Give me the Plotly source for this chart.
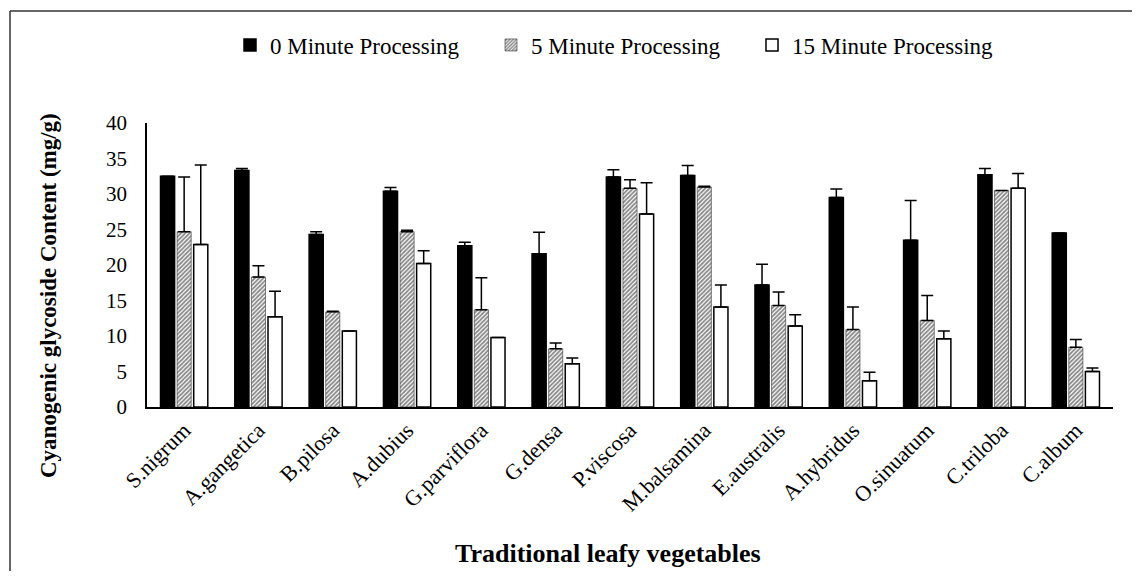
import plotly.graph_objects as go

categories = ["S.nigrum", "A.gangetica", "B.pilosa", "A.dubius", "G.parviflora", "G.densa",
              "P.viscosa", "M.balsamina", "E.australis", "A.hybridus", "O.sinuatum", "C.triloba", "C.album"]

series_names = ["0 Minute Processing", "5 Minute Processing", "15 Minute Processing"]

min0_values = [32.5, 33.3, 24.3, 30.4, 22.7, 21.6, 32.4, 32.6, 17.2, 29.5, 23.5, 32.7, 24.5]
min0_errors = [0.0, 0.3, 0.4, 0.5, 0.5, 3.0, 1.0, 1.4, 2.9, 1.2, 5.6, 0.9, 0.0]

min5_values = [24.7, 18.3, 13.4, 24.7, 13.7, 8.2, 30.8, 31.0, 14.3, 10.9, 12.2, 30.5, 8.4]
min5_errors = [7.7, 1.6, 0.1, 0.2, 4.5, 0.8, 1.2, 0.1, 1.9, 3.2, 3.5, 0.0, 1.1]

min15_values = [22.9, 12.7, 10.7, 20.2, 9.8, 6.1, 27.2, 14.1, 11.4, 3.7, 9.6, 30.8, 5.0]
min15_errors = [11.2, 3.6, 0.0, 1.8, 0.0, 0.8, 4.4, 3.1, 1.6, 1.2, 1.1, 2.1, 0.5]

y_ticks = [0, 5, 10, 15, 20, 25, 30, 35, 40]

FONT = "Times New Roman, Liberation Serif, serif"

def err(vals):
    return dict(type="data", symmetric=False, array=vals, arrayminus=[0] * len(vals),
                color="black", thickness=1.5, width=6)

fig = go.Figure()
fig.add_trace(go.Bar(
    name=series_names[0], x=categories, y=min0_values, error_y=err(min0_errors),
    marker=dict(color="black", line=dict(color="black", width=1.5)),
))
fig.add_trace(go.Bar(
    name=series_names[1], x=categories, y=min5_values, error_y=err(min5_errors),
    marker=dict(color="white", line=dict(color="#333333", width=0.6),
                pattern=dict(shape="/", fgcolor="#111111", bgcolor="white", size=3, solidity=0.6)),
))
fig.add_trace(go.Bar(
    name=series_names[2], x=categories, y=min15_values, error_y=err(min15_errors),
    marker=dict(color="white", line=dict(color="black", width=1.5)),
))

# page body has an 8px margin: lay the figure out in reference pixels minus 8
OFF = 8
W, H = 1124, 563
ml, mr, mt, mb = 139, 19, 115, 164
pw = W - ml - mr
ph = H - mt - mb

def px(X):
    return (X - OFF - ml) / pw

def py(Y):
    return (H - mb - (Y - OFF)) / ph

fig.update_layout(
    width=W, height=H,
    margin=dict(l=ml, r=mr, t=mt, b=mb),
    paper_bgcolor="white", plot_bgcolor="white",
    barmode="group", bargap=0.33, bargroupgap=0.15,
    font=dict(family=FONT, size=20, color="black"),
    showlegend=True,
    legend=dict(orientation="h", x=px(230), y=py(45), xanchor="left", yanchor="middle",
                font=dict(family=FONT, size=23, color="black"),
                entrywidth=216, entrywidthmode="pixels", traceorder="normal"),
    xaxis=dict(showline=True, linecolor="black", linewidth=1.5, showgrid=False,
               tickangle=-45, ticks="", tickfont=dict(family=FONT, size=22)),
    yaxis=dict(range=[0, 40], tickvals=y_ticks, showline=True, linecolor="black", linewidth=1.5,
               showgrid=False, zeroline=False, ticks="", ticklabelstandoff=14,
               tickfont=dict(family=FONT, size=21)),
    annotations=[
        dict(text="<b>Cyanogenic glycoside Content (mg/g)</b>", xref="paper", yref="paper",
             x=px(48), y=py(296), xanchor="center", yanchor="middle", textangle=-90, showarrow=False,
             font=dict(family=FONT, size=23, color="black")),
        dict(text="<b>Traditional leafy vegetables</b>", xref="paper", yref="paper",
             x=px(608), y=py(553), xanchor="center", yanchor="middle", showarrow=False,
             font=dict(family=FONT, size=26, color="black")),
    ],
    shapes=[
        dict(type="line", xref="paper", yref="paper", x0=px(10), x1=px(1160), y0=py(11), y1=py(11),
             line=dict(color="#333333", width=1.5)),
        dict(type="line", xref="paper", yref="paper", x0=px(10), x1=px(10), y0=py(11), y1=py(600),
             line=dict(color="#333333", width=1.5)),
    ],
)

fig.write_html("out.html")
